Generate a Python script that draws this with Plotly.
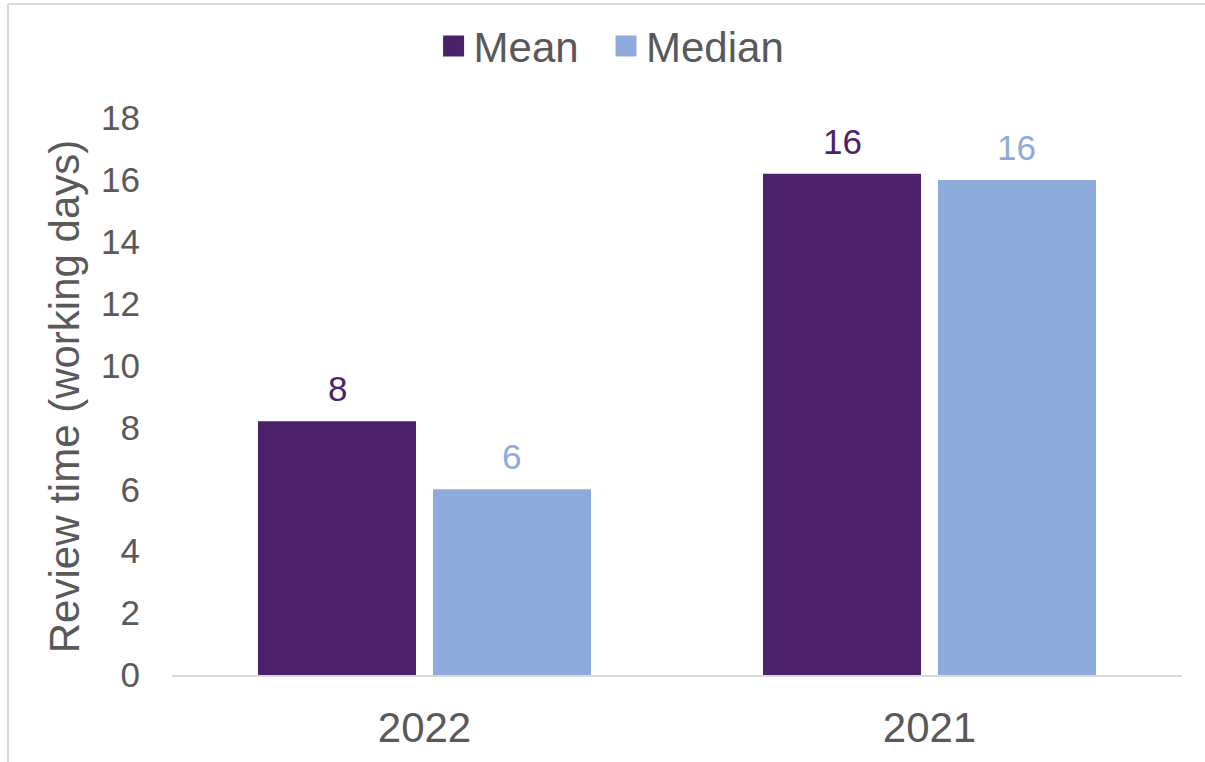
import plotly.graph_objects as go

categories = ["2022", "2021"]
mean_values = [8.2, 16.2]
median_values = [6.0, 16.0]
series_names = ["Mean", "Median"]
y_ticks = [0, 2, 4, 6, 8, 10, 12, 14, 16, 18]

MEAN_COLOR = "#4B216A"
MEDIAN_COLOR = "#8FABDC"
TEXT_COLOR = "#595959"
BORDER_COLOR = "#D9D9D9"
FONT = "Liberation Sans, Arial, sans-serif"

W, H = 1205, 762
ML, MR, MT, MB = 172, 23, 118, 87
BARGAP = 0.307
BARGROUPGAP = 0.097

fig = go.Figure()
for name, vals, col, leg in [(series_names[0], mean_values, MEAN_COLOR, "legend"),
                             (series_names[1], median_values, MEDIAN_COLOR, "legend2")]:
    fig.add_trace(go.Bar(x=categories, y=vals, name=name, marker_color=col,
                         marker_line_width=0, showlegend=False))
    fig.add_trace(go.Scatter(x=[categories[0]], y=[None], mode="markers", name=name,
                             legend=leg,
                             marker=dict(symbol="square", size=16, color=col,
                                         line=dict(color=col, width=5))))

# data labels above bars (x given as category index)
plot_w = W - ML - MR
plot_h = H - MT - MB
slot = plot_w / len(categories) * (1 - BARGAP) / 2
for vals, col, sign in [(mean_values, MEAN_COLOR, -1), (median_values, MEDIAN_COLOR, 1)]:
    for i, v in enumerate(vals):
        fig.add_annotation(x=i, y=v, text=f"{v:.0f}", showarrow=False,
                           xshift=sign * slot / 2, yanchor="bottom", yshift=11,
                           font=dict(size=35, color=col, family=FONT))

# chart-area border (top and left edges visible in the crop)
bx0 = (8 - ML) / plot_w
by1 = (H - MB - 4) / plot_h
fig.add_shape(type="line", xref="paper", yref="paper", x0=bx0, x1=(W + 30 - ML) / plot_w,
              y0=by1, y1=by1, line=dict(color=BORDER_COLOR, width=2), layer="above")
fig.add_shape(type="line", xref="paper", yref="paper", x0=bx0, x1=bx0,
              y0=-0.5, y1=by1, line=dict(color=BORDER_COLOR, width=2), layer="above")

legend_common = dict(orientation="h", xanchor="left", y=1.129, yanchor="middle",
                     font=dict(size=42, color=TEXT_COLOR), itemsizing="trace",
                     bgcolor="rgba(0,0,0,0)")

fig.update_layout(
    width=W, height=H,
    margin=dict(l=ML, r=MR, t=MT, b=MB, autoexpand=False),
    paper_bgcolor="white", plot_bgcolor="white",
    barmode="group", bargap=BARGAP, bargroupgap=BARGROUPGAP,
    font=dict(family=FONT, color=TEXT_COLOR),
    legend=dict(x=0.259, **legend_common),
    legend2=dict(x=0.4297, **legend_common),
    xaxis=dict(type="category", range=[-0.5, len(categories) - 0.5],
               showline=True, linecolor=BORDER_COLOR, linewidth=2, ticks="",
               tickfont=dict(size=42, color=TEXT_COLOR), ticklabelstandoff=15,
               showgrid=False, zeroline=False),
    yaxis=dict(range=[0, 18], tickvals=y_ticks, showgrid=False, zeroline=False,
               showline=False, ticks="", ticklabelstandoff=31,
               tickfont=dict(size=35, color=TEXT_COLOR),
               title=dict(text="Review time (working days)", standoff=8,
                          font=dict(size=42, color=TEXT_COLOR))),
)

fig.write_html("out.html", config={"displayModeBar": False},
               post_script="document.body.style.margin='0';")
